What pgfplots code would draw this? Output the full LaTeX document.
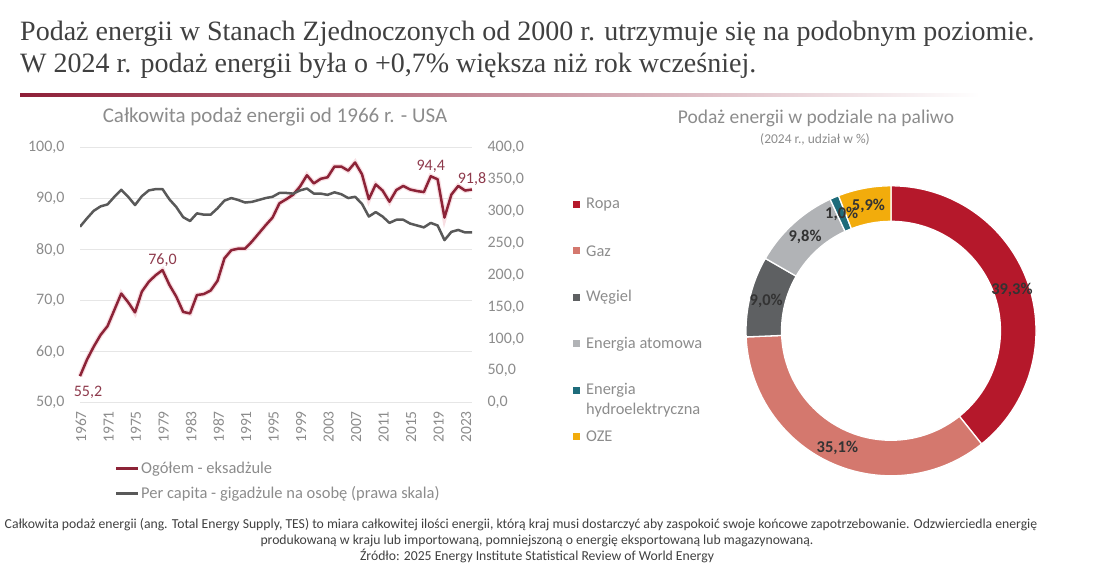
\documentclass[border=0pt]{standalone}
\usepackage{fontspec}
\setmainfont{Carlito}
\newfontfamily\titlefont{Liberation Serif}
\usepackage{pgfplots}
\usepackage{pgfplotstable}
\pgfplotsset{compat=1.18}

\definecolor{titlec}{HTML}{404040}
\definecolor{rulered}{HTML}{8E1F38}
\definecolor{subc}{HTML}{8C8C8C}
\definecolor{gridc}{HTML}{E6E6E6}
\definecolor{totc}{HTML}{8C2337}
\definecolor{glowc}{HTML}{F4C9D0}
\definecolor{capc}{HTML}{595959}
\definecolor{lblc}{HTML}{8E3A4C}
\definecolor{ropa}{HTML}{B5182B}
\definecolor{gaz}{HTML}{D4786E}
\definecolor{wegiel}{HTML}{5E6062}
\definecolor{atom}{HTML}{B1B3B6}
\definecolor{hydro}{HTML}{1E6C7B}
\definecolor{oze}{HTML}{F2AC0C}
\definecolor{pctc}{HTML}{333333}

% USA total energy supply (EJ) and per capita (GJ per person)
\pgfplotstableread{
year total percap
1967 55.2 276
1968 58.4 289
1969 61.0 301
1970 63.3 308
1971 65.0 311
1972 68.2 323
1973 71.4 334
1974 69.7 323
1975 67.7 310
1976 71.8 324
1977 73.7 333
1978 75.0 335
1979 76.0 335
1980 73.1 319
1981 70.8 307
1982 67.8 291
1983 67.5 285
1984 71.1 297
1985 71.3 295
1986 72.0 295
1987 73.9 305
1988 78.3 317
1989 79.9 321
1990 80.2 318
1991 80.2 314
1992 81.6 315
1993 83.2 318
1994 84.8 321
1995 86.3 323
1996 89.1 329
1997 89.9 329
1998 90.8 328
1999 92.4 333
2000 94.6 336
2001 93.0 328
2002 93.9 328
2003 94.2 326
2004 96.3 330
2005 96.3 327
2006 95.5 321
2007 97.1 323
2008 94.8 312
2009 89.9 292
2010 92.8 299
2011 91.6 292
2012 89.4 282
2013 91.7 287
2014 92.5 287
2015 91.8 281
2016 91.5 278
2017 91.3 275
2018 94.4 282
2019 93.8 278
2020 86.3 255
2021 90.8 268
2022 92.5 271
2023 91.6 267
2024 91.8 267
}\tesdata

% ring segment: start (%), share (%), colour
\newcommand\donutwedge[3]{%
  \fill[#3, draw=white, line width=1.3pt]
    (axis cs:{cos(90-3.6*(#1)/1.001)},{sin(90-3.6*(#1)/1.001)})
    arc[start angle={90-3.6*(#1)/1.001}, end angle={90-3.6*(#1+#2)/1.001}, radius=1]
    -- (axis cs:{0.755*cos(90-3.6*(#1+#2)/1.001)},{0.755*sin(90-3.6*(#1+#2)/1.001)})
    arc[start angle={90-3.6*(#1+#2)/1.001}, end angle={90-3.6*(#1)/1.001}, radius=0.755]
    -- cycle;}

\pgfplotsset{
  numfmt/.style={/pgf/number format/.cd, fixed, fixed zerofill, precision=1,
    use comma, assume math mode=true},
}

\begin{document}
\begin{tikzpicture}[x=1pt,y=1pt]
\path[use as bounding box] (0,0) rectangle (1110,562);

% heading
\node[anchor=base west, inner sep=0pt, text=titlec,
  font=\titlefont\fontsize{28}{32}\selectfont] at (20,521)
  {Podaż energii w Stanach Zjednoczonych od 2000 r. utrzymuje się na podobnym poziomie.};
\node[anchor=base west, inner sep=0pt, text=titlec,
  font=\titlefont\fontsize{28}{32}\selectfont] at (20,489)
  {W 2024 r. podaż energii była o +0,7\% większa niż rok wcześniej.};
\shade[left color=rulered, right color=white] (20,465.5) rectangle (980,468.5);

% chart titles
\node[text=subc, font=\fontsize{21}{24}\selectfont] at (275,445)
  {Całkowita podaż energii od 1966 r. - USA};
\node[text=subc, font=\fontsize{19.5}{22}\selectfont] at (816,444)
  {Podaż energii w podziale na paliwo};
\node[text=subc, font=\fontsize{13.5}{15}\selectfont] at (815,422)
  {(2024 r., udział w \%)};

% left axis: total
\begin{axis}[
  at={(80pt,159.3pt)}, anchor=south west,
  scale only axis, width=392pt, height=255pt,
  xmin=1967, xmax=2024, ymin=50, ymax=100,
  axis y line*=left, axis x line*=bottom,
  axis line style={draw=none},
  major tick length=0pt,
  ytick={50,60,...,100},
  ymajorgrids, grid style={draw=gridc, line width=0.9pt},
  xtick={1967,1971,...,2023},
  tick label style={text=subc},
  yticklabel style={font=\fontsize{16}{18}\selectfont, xshift=-12pt, numfmt},
  xticklabel style={font=\fontsize{15.5}{18}\selectfont, rotate=90, anchor=east,
    xshift=-5pt, yshift=-1pt, /pgf/number format/.cd, 1000 sep={}, assume math mode=true},
  clip=false,
  legend style={at={(0.089,-0.225)}, anchor=north west, draw=none, fill=none,
    font=\fontsize{16.5}{19}\selectfont, text=subc, row sep=9pt, inner sep=0pt,
    nodes={inner sep=1.5pt}},
  legend cell align=left,
  legend image code/.code={\draw[#1, line width=2.6pt] (0pt,0pt) -- (22pt,0pt);},
]
\addplot[glowc, line width=5pt, opacity=0.6, forget plot] table[x=year, y=total] {\tesdata};
\addplot[totc, line width=2.5pt, line join=round] table[x=year, y=total] {\tesdata};
\addlegendentry{Ogółem - eksadżule}
\addlegendimage{capc}
\addlegendentry{Per capita - gigadżule na osobę (prawa skala)}
\addplot[draw=none, forget plot, point meta=explicit symbolic, nodes near coords,
  nodes near coords style={anchor=north, xshift=8pt, yshift=-6pt, text=lblc,
    font=\fontsize{16}{18}\selectfont}]
  coordinates {(1967,55.2) [55,2]};
\addplot[draw=none, forget plot, point meta=explicit symbolic, nodes near coords,
  nodes near coords style={anchor=south, yshift=0pt, text=lblc,
    font=\fontsize{16}{18}\selectfont}]
  coordinates {(1979,76.0) [76,0] (2018,94.4) [94,4] (2024,91.8) [91,8]};
\end{axis}

% right axis: per capita
\begin{axis}[
  at={(80pt,159.3pt)}, anchor=south west,
  scale only axis, width=392pt, height=255pt,
  xmin=1967, xmax=2024, ymin=0, ymax=400,
  axis y line*=right, axis x line=none,
  axis line style={draw=none},
  major tick length=0pt,
  ytick={0,50,...,400},
  yticklabel style={text=subc, font=\fontsize{16}{18}\selectfont, xshift=12pt, numfmt},
]
\addplot[capc, line width=2.5pt, line join=round] table[x=year, y=percap] {\tesdata};
\end{axis}

% donut: shares 2024 (%)
\begin{axis}[
  at={(891pt,231.2pt)}, anchor=center,
  scale only axis, width=290pt, height=290pt,
  xmin=-1, xmax=1, ymin=-1, ymax=1,
  hide axis, clip=false, disabledatascaling,
]
\donutwedge{0}{39.3}{ropa}
\donutwedge{39.3}{35.1}{gaz}
\donutwedge{74.4}{9.0}{wegiel}
\donutwedge{83.4}{9.8}{atom}
\donutwedge{93.2}{1.0}{hydro}
\donutwedge{94.2}{5.9}{oze}
\begin{scope}[every node/.style={text=pctc, font=\bfseries\fontsize{16.5}{18}\selectfont}]
\node at (axis cs:0.834,0.281) {39,3\%};
\node at (axis cs:-0.370,-0.806) {35,1\%};
\node at (axis cs:-0.861,0.206) {9,0\%};
\node at (axis cs:-0.593,0.649) {9,8\%};
\node at (axis cs:-0.340,0.803) {1,0\%};
\node at (axis cs:-0.156,0.859) {5,9\%};
\end{scope}
\end{axis}

% donut legend
\begin{scope}[every node/.style={anchor=west, inner sep=0pt, text=subc,
    font=\fontsize{16.4}{19}\selectfont, align=left}]
\fill[ropa] (573,354.2) rectangle (580,361.2);
\node at (586,357.7) {Ropa};
\fill[gaz] (573,307.5) rectangle (580,314.5);
\node at (586,311) {Gaz};
\fill[wegiel] (573,260.8) rectangle (580,267.8);
\node at (586,264.3) {Węgiel};
\fill[atom] (573,214.5) rectangle (580,221.5);
\node at (586,218) {Energia atomowa};
\fill[hydro] (573,167.8) rectangle (580,174.8);
\node at (586,171.3) {Energia};
\node at (586,152) {hydroelektryczna};
\fill[oze] (573,121.8) rectangle (580,128.8);
\node at (586,125.3) {OZE};
\end{scope}

% footnote
\begin{scope}[every node/.style={text=titlec, font=\fontsize{13.7}{15}\selectfont, inner sep=0pt}]
\node at (521,37) {Całkowita podaż energii (ang. Total Energy Supply, TES) to miara całkowitej ilości energii, którą kraj musi dostarczyć aby zaspokoić swoje końcowe zapotrzebowanie. Odzwierciedla energię};
\node at (537,21.5) {produkowaną w kraju lub importowaną, pomniejszoną o energię eksportowaną lub magazynowaną.};
\node at (537,6.5) {Źródło: 2025 Energy Institute Statistical Review of World Energy};
\end{scope}
\end{tikzpicture}
\end{document}
